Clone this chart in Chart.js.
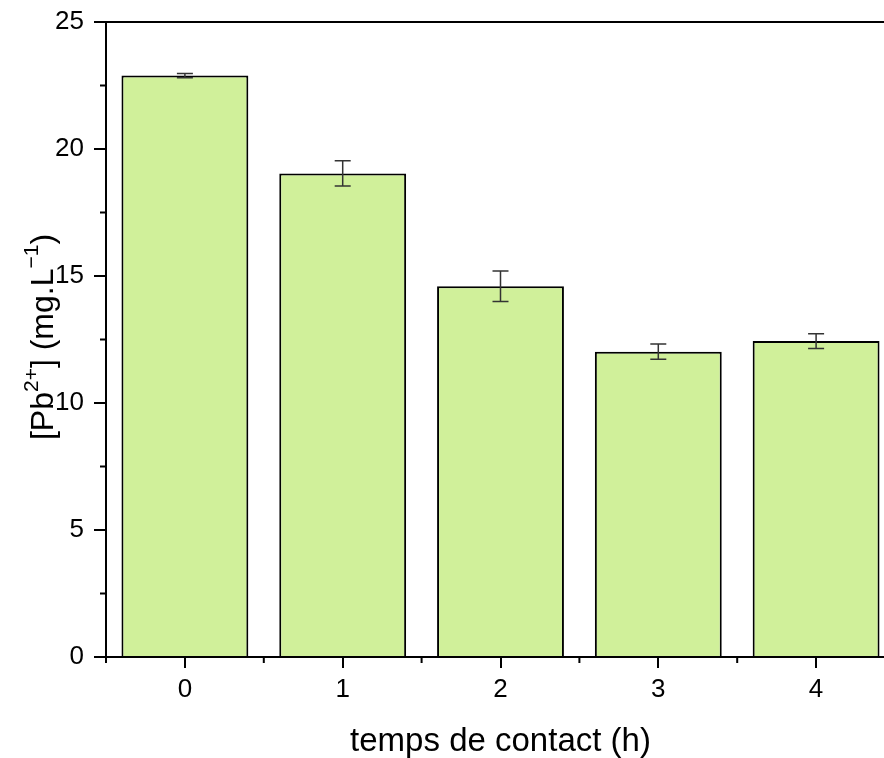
<!DOCTYPE html>
<html>
<head>
<meta charset="utf-8">
<script src="https://cdn.jsdelivr.net/npm/chart.js@4"></script>
<style>
  html, body { margin: 0; padding: 0; background: #fff; overflow: hidden; }
  #wrap { width: 900px; height: 758px; }
</style>
</head>
<body>
<div id="wrap"><canvas id="bar-chart"></canvas></div>
<script>
"use strict"

// data
const hours = ['0', '1', '2', '3', '4'];
const leadConc = [22.89, 19.04, 14.6, 12.02, 12.44];
const leadErr = [0.08, 0.5, 0.6, 0.3, 0.29];
const yTicks = [0, 5, 10, 15, 20, 25];

Chart.defaults.font.family = "'Liberation Sans', Arial, sans-serif";
Chart.defaults.color = '#000';

// error bars, minor ticks, top frame and y title
const extras = {
  id: 'extras',
  afterDatasetsDraw(chart) {
    const ctx = chart.ctx;
    const x = chart.scales.x, y = chart.scales.y;
    ctx.save();
    ctx.strokeStyle = '#333';
    ctx.lineWidth = 1.5;
    leadConc.forEach((v, i) => {
      const px = x.getPixelForValue(i);
      const hi = y.getPixelForValue(v + leadErr[i]);
      const lo = y.getPixelForValue(v - leadErr[i]);
      ctx.beginPath();
      ctx.moveTo(px, hi); ctx.lineTo(px, lo);
      ctx.moveTo(px - 8, hi); ctx.lineTo(px + 8, hi);
      ctx.moveTo(px - 8, lo); ctx.lineTo(px + 8, lo);
      ctx.stroke();
    });
    ctx.restore();
  },
  afterDraw(chart) {
    const ctx = chart.ctx;
    const area = chart.chartArea;
    const x = chart.scales.x, y = chart.scales.y;
    ctx.save();
    ctx.strokeStyle = '#000';
    ctx.lineWidth = 2;
    // top frame
    ctx.beginPath();
    ctx.moveTo(area.left - 12, area.top);
    ctx.lineTo(area.right, area.top);
    ctx.stroke();
    // minor ticks
    ctx.beginPath();
    for (let i = 0; i < yTicks.length - 1; i++) {
      const py = y.getPixelForValue(yTicks[i] + 2.5);
      ctx.moveTo(area.left - 6, py); ctx.lineTo(area.left, py);
    }
    const step = x.getPixelForValue(1) - x.getPixelForValue(0);
    for (let i = 0; i <= hours.length; i++) {
      const px = x.getPixelForValue(0) + (i - 0.5) * step;
      ctx.moveTo(px, area.bottom); ctx.lineTo(px, area.bottom + 6);
    }
    ctx.stroke();

    // y title with superscripts
    const big = "32px 'Liberation Sans', Arial, sans-serif";
    const small = "21px 'Liberation Sans', Arial, sans-serif";
    const parts = [
      ['[Pb', big, 0], ['2+', small, -12], ['] (mg.L', big, 0], ['\u22121', small, -12], [')', big, 0]
    ];
    let total = 0;
    parts.forEach(p => { ctx.font = p[1]; total += ctx.measureText(p[0]).width; });
    ctx.translate(44, 337);
    ctx.rotate(-Math.PI / 2);
    ctx.fillStyle = '#000';
    ctx.textBaseline = 'middle';
    let cx = -total / 2;
    parts.forEach(p => {
      ctx.font = p[1];
      ctx.fillText(p[0], cx, p[2]);
      cx += ctx.measureText(p[0]).width;
    });
    ctx.restore();
  }
};

const data = {
  labels: hours,
  datasets: [{
    data: leadConc,
    backgroundColor: '#d0f09a',
    borderColor: '#000',
    borderWidth: 2,
    barPercentage: 0.804,
    categoryPercentage: 1
  }]
};

const config = {
  type: 'bar',
  data,
  plugins: [extras],
  options: {
    responsive: true,
    maintainAspectRatio: false,
    animation: false,
    layout: { padding: { top: 22, right: 5, left: 0, bottom: 0 } },
    plugins: {
      legend: { display: false },
      tooltip: { enabled: false }
    },
    scales: {
      x: {
        offset: true,
        grid: { offset: false, drawOnChartArea: false, color: '#000', lineWidth: 2, tickLength: 11 },
        border: { color: '#000', width: 2 },
        ticks: { font: { size: 26 }, padding: 6, color: '#000' },
        title: {
          display: true,
          text: 'temps de contact (h)',
          font: { size: 33, lineHeight: 1 },
          padding: { top: 0, bottom: 0 },
          color: '#000'
        },
        afterFit(scale) {
          scale.height = 101;
          scale.paddingLeft = 0;
          scale.paddingRight = 0;
        }
      },
      y: {
        min: 0,
        max: 25,
        afterBuildTicks(scale) { scale.ticks = yTicks.map(v => ({ value: v })); },
        grid: { drawOnChartArea: false, color: '#000', lineWidth: 2, tickLength: 12 },
        border: { color: '#000', width: 2 },
        ticks: { font: { size: 26 }, padding: 10, color: '#000' },
        afterFit(scale) {
          scale.width = 106;
          scale.paddingTop = 0;
          scale.paddingBottom = 0;
        }
      }
    }
  }
};

const barChart = new Chart(document.getElementById('bar-chart'), config);
</script>
</body>
</html>
